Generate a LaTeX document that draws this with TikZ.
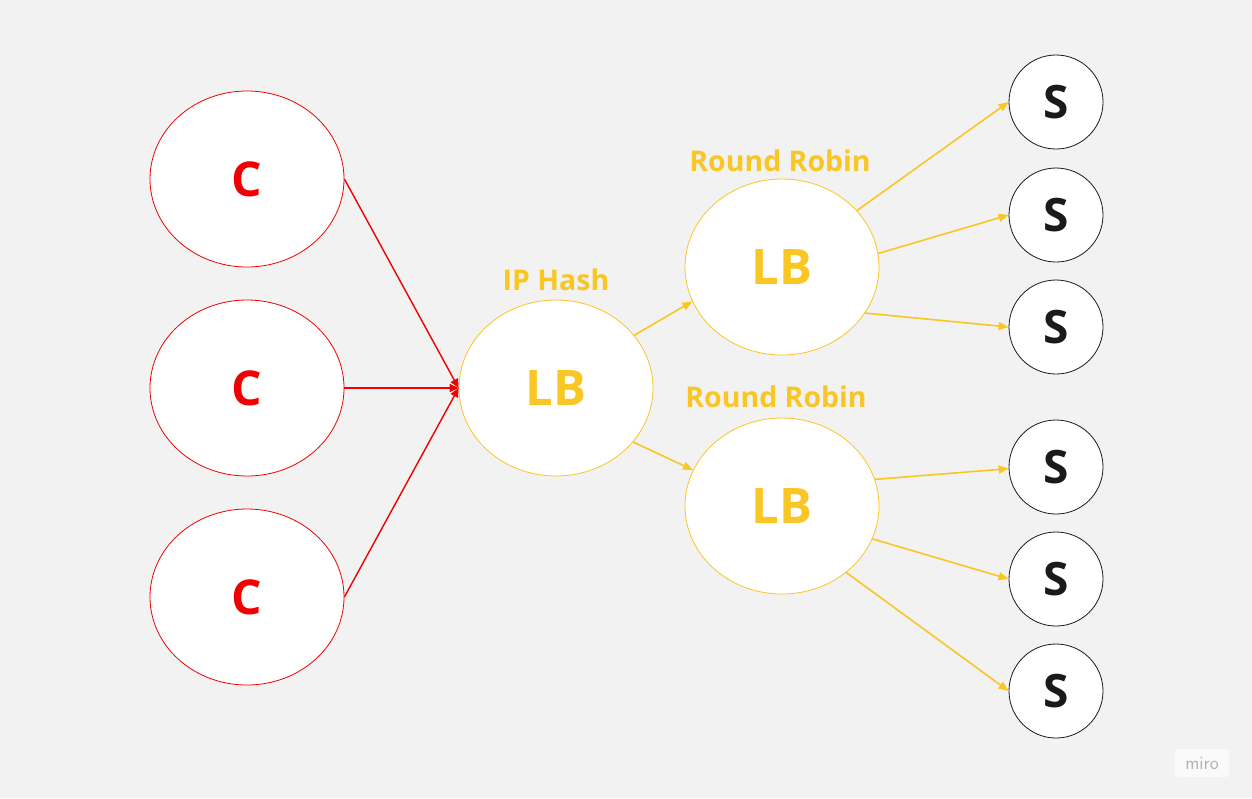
\documentclass[tikz,border=0pt]{standalone}
\usepackage{fontspec}
\setmainfont{Open Sans}
\usetikzlibrary{shapes.geometric,arrows.meta}
\definecolor{bg}{HTML}{F2F2F2}
\definecolor{cred}{HTML}{F00000}
\definecolor{cyel}{HTML}{F9C623}
\definecolor{sblk}{HTML}{1A1A1A}
\tikzset{
  client/.style={ellipse, draw=cred, fill=white, line width=0.8pt, minimum width=194pt, minimum height=176pt, inner sep=0pt, text=cred, font=\fontsize{48}{48}\selectfont\bfseries},
  lbnode/.style={ellipse, draw=cyel, fill=white, line width=0.8pt, minimum width=194pt, minimum height=176pt, inner sep=0pt, text=cyel, font=\fontsize{49}{49}\selectfont\bfseries},
  server/.style={circle, draw=sblk, fill=white, line width=0.8pt, minimum size=94pt, inner sep=0pt, text=sblk, font=\fontsize{46}{46}\selectfont\bfseries},
  lbl/.style={text=cyel, font=\fontsize{28.5}{28.5}\selectfont\bfseries, inner sep=0pt},
  redarrow/.style={draw=cred, line width=1.4pt, -{Triangle[length=9pt,width=8pt]}},
  yelarrow/.style={draw=cyel, line width=1.6pt, -{Triangle[length=10pt,width=8pt]}},
}
\begin{document}
\begin{tikzpicture}[x=1pt,y=-1pt]
\fill[bg] (0,0) rectangle (1252,798);
\useasboundingbox (0,0) rectangle (1252,798);

\node[client] (c1) at (247,179) {C};
\node[client] (c2) at (247,388) {C};
\node[client] (c3) at (247,597) {C};

\node[lbnode] (lb) at (556,388) {LB};
\node[lbnode] (lbu) at (782,267) {LB};
\node[lbnode] (lbl) at (782,506) {LB};

\node[lbl] (iph) at (556,280) {IP Hash};
\node[lbl] (rr1) at (780,161) {Round Robin};
\node[lbl] (rr2) at (776,397) {Round Robin};

\node[server] (s1) at (1056,102) {S};
\node[server] (s2) at (1056,215) {S};
\node[server] (s3) at (1056,327) {S};
\node[server] (s4) at (1056,467) {S};
\node[server] (s5) at (1056,579) {S};
\node[server] (s6) at (1056,691) {S};

\draw[redarrow] (c1.east) -- (lb.west);
\draw[redarrow] (c2.east) -- (lb.west);
\draw[redarrow] (c3.east) -- (lb.west);

\draw[yelarrow] (lb.34) -- (lbu.201);
\draw[yelarrow] (lb.-35) -- (lbl.158);

\draw[yelarrow] (lbu.37.5) -- (s1.west);
\draw[yelarrow] (lbu.8) -- (s2.west);
\draw[yelarrow] (lbu.-29) -- (s3.west);

\draw[yelarrow] (lbl.16.6) -- (s4.182);
\draw[yelarrow] (lbl.-20.3) -- (s5.west);
\draw[yelarrow] (lbl.-46.7) -- (s6.west);

\node[fill=white!60!bg, rounded corners=3pt, minimum width=54pt, minimum height=28pt, text=black!30, font=\fontsize{19}{19}\selectfont\sffamily] (miro) at (1202,763) {miro};
\end{tikzpicture}
\end{document}
